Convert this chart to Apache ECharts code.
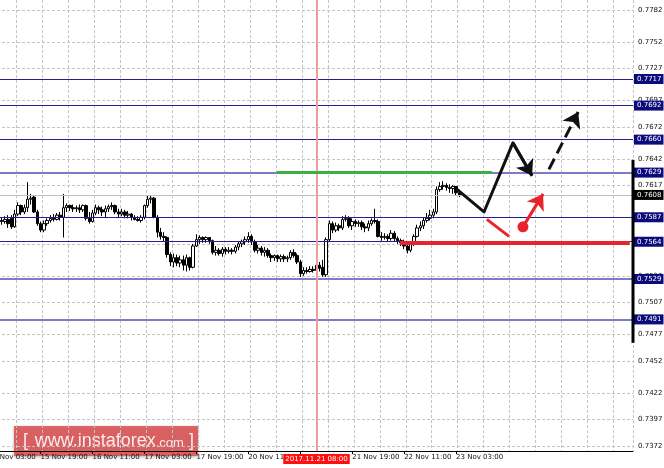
<!DOCTYPE html>
<html><head><meta charset="utf-8">
<script src="https://cdn.jsdelivr.net/npm/echarts@6/dist/echarts.min.js"></script>
<style>html,body{margin:0;padding:0;background:#fff}#c{width:664px;height:468px}</style>
</head><body><div id="c"></div>
<script>
// ---- data ----
const SLOTS = 199;
const xTickLabels = ['15 Nov 03:00','15 Nov 19:00','16 Nov 11:00','17 Nov 03:00','17 Nov 19:00','20 Nov 11:00','21 Nov 03:00','21 Nov 19:00','22 Nov 11:00','23 Nov 03:00'];
const yTickLabels = [0.7372,0.7397,0.7422,0.7452,0.7477,0.7507,0.7532,0.7562,0.7587,0.7617,0.7642,0.7672,0.7697,0.7727,0.7752,0.7782];
const levelPrices = [0.7717,0.7692,0.7660,0.7629,0.7587,0.7564,0.7529,0.7491];
const levelStrong = [false,false,false,true,false,false,true,true];
const currentPrice = 0.7608;
const markerTime = '21 Nov 08:00';
const markerLabel = '2017.11.21 08:00';

const openP = [null,null,null,null,
.7584,.7583,.7585,.7586,.7578,.7590,.7598,.7592,.7596,.7604,.7606,.7592,.7581,.7575,.7581,.7584,
.7586,.7585,.7589,.7587,.7596,.7598,.7596,.7595,.7596,.7594,.7598,.7586,.7583,.7591,.7596,.7594,
.7592,.7595,.7597,.7598,.7592,.7590,.7592,.7589,.7590,.7587,.7585,.7584,.7587,.7598,.7604,.7605,
.7587,.7573,.7569,.7568,.7552,.7545,.7549,.7544,.7547,.7542,.7549,.7540,.7560,.7566,.7568,.7566,
.7568,.7565,.7554,.7556,.7553,.7557,.7555,.7556,.7555,.7559,.7562,.7564,.7566,.7569,.7564,.7556,
.7558,.7554,.7556,.7551,.7549,.7551,.7548,.7550,.7548,.7549,.7554,.7551,.7545,.7534,.7537,.7536,
.7538,.7537,.7542,.7540,.7533,.7566,.7581,.7575,.7579,.7577,.7585,.7586,.7579,.7583,.7581,.7582,
.7578,.7577,.7581,.7584,.7583,.7569,.7568,.7569,.7567,.7572,.7567,.7565,.7563,.7560,.7556,.7562,
.7569,.7577,.7579,.7584,.7586,.7589,.7592,.7613,.7616,.7617,.7615,.7614,.7616,.7610];
const closeP = [null,null,null,null,
.7583,.7585,.7581,.7578,.7590,.7598,.7592,.7596,.7604,.7605,.7592,.7581,.7575,.7581,.7584,.7586,
.7585,.7589,.7587,.7596,.7598,.7596,.7595,.7596,.7594,.7598,.7586,.7583,.7591,.7596,.7594,.7592,
.7595,.7597,.7598,.7592,.7590,.7592,.7589,.7590,.7587,.7585,.7584,.7587,.7598,.7604,.7605,.7587,
.7573,.7569,.7568,.7552,.7545,.7549,.7544,.7547,.7542,.7549,.7540,.7560,.7566,.7568,.7566,.7568,
.7565,.7554,.7556,.7553,.7557,.7555,.7556,.7555,.7559,.7562,.7564,.7566,.7569,.7564,.7556,.7558,
.7554,.7556,.7551,.7549,.7551,.7548,.7550,.7548,.7549,.7554,.7551,.7545,.7534,.7537,.7536,.7538,
.7537,.7542,.7539,.7533,.7566,.7581,.7575,.7579,.7577,.7585,.7586,.7579,.7583,.7581,.7582,.7578,
.7577,.7581,.7584,.7583,.7569,.7568,.7569,.7567,.7572,.7567,.7565,.7563,.7560,.7556,.7562,.7569,
.7577,.7579,.7584,.7586,.7589,.7592,.7613,.7616,.7617,.7615,.7614,.7616,.7610,.7608];
const lowP = [null,null,null,null,
.7580,.7581,.7577,.7576,.7577,.7588,.7589,.7590,.7592,.7599,.7591,.7579,.7573,.7573,.7579,.7582,
.7583,.7584,.7584,.7568,.7592,.7593,.7592,.7592,.7591,.7592,.7584,.7581,.7582,.7589,.7590,.7588,
.7587,.7592,.7594,.7590,.7587,.7588,.7586,.7586,.7584,.7584,.7583,.7582,.7585,.7596,.7600,.7586,
.7568,.7566,.7564,.7549,.7541,.7540,.7541,.7540,.7537,.7536,.7537,.7539,.7559,.7562,.7563,.7563,
.7562,.7552,.7551,.7551,.7550,.7552,.7553,.7552,.7553,.7556,.7559,.7561,.7563,.7561,.7554,.7553,
.7551,.7550,.7549,.7545,.7546,.7545,.7545,.7545,.7545,.7547,.7549,.7543,.7531,.7532,.7534,.7535,
.7535,.7536,.7536,.7531,.7531,.7564,.7572,.7573,.7574,.7575,.7583,.7577,.7575,.7578,.7578,.7575,
.7573,.7574,.7579,.7581,.7568,.7565,.7566,.7564,.7565,.7564,.7562,.7560,.7557,.7553,.7554,.7560,
.7568,.7574,.7576,.7582,.7584,.7586,.7590,.7611,.7613,.7612,.7610,.7609,.7607,.7606];
const highP = [null,null,null,null,
.7587,.7588,.7589,.7589,.7594,.7601,.7599,.7599,.7620,.7609,.7607,.7594,.7583,.7584,.7586,.7589,
.7590,.7591,.7592,.7609,.7600,.7599,.7599,.7598,.7599,.7599,.7599,.7592,.7594,.7599,.7598,.7597,
.7598,.7599,.7601,.7599,.7595,.7595,.7594,.7593,.7591,.7589,.7588,.7589,.7599,.7607,.7607,.7606,
.7589,.7577,.7573,.7569,.7554,.7553,.7552,.7551,.7551,.7552,.7550,.7562,.7571,.7570,.7569,.7569,
.7568,.7566,.7560,.7558,.7559,.7559,.7559,.7558,.7561,.7564,.7566,.7569,.7573,.7571,.7566,.7561,
.7560,.7559,.7558,.7553,.7552,.7552,.7552,.7552,.7551,.7556,.7557,.7553,.7547,.7540,.7540,.7541,
.7541,.7545,.7545,.7547,.7568,.7584,.7583,.7582,.7581,.7588,.7589,.7588,.7586,.7585,.7584,.7584,
.7581,.7584,.7586,.7595,.7585,.7573,.7572,.7571,.7575,.7574,.7569,.7567,.7566,.7563,.7564,.7571,
.7580,.7583,.7587,.7591,.7594,.7595,.7616,.7620,.7621,.7619,.7618,.7617,.7616,.7613];

// forecast drawing (x in bar index, y in price)
const forecastPath = [[144,0.7614],[152.6,0.7592],[161.5,0.7657],[167.4,0.7626]];
const forecastUp = [[172.6,0.7632],[181.6,0.7686]];
const redDrop = [[153.5,0.7585],[160.3,0.7569]];
const redDot = [[164.6,0.7578]];
const redUp = [[164.6,0.7578],[170.8,0.7609]];
const greenLevel = [[88.8,0.7629],[155.1,0.7629]];
const redLevel = [[126.7,0.7563],[197.5,0.7563]];
const rangeBar = [[198.5,0.7641],[198.5,0.7469]];

// ---- build ----
const categories = [];
let t = Date.UTC(2017,10,15,3);
while (categories.length < SLOTS) {
  const d = new Date(t);
  const wd = d.getUTCDay();
  if (wd !== 0 && wd !== 6) categories.push(d.getUTCDate() + ' Nov ' + String(d.getUTCHours()).padStart(2,'0') + ':00');
  t += 3600000;
}
const ohlc = openP.map((o,i) => o == null ? '-' : [o, closeP[i], lowP[i], highP[i]]);

const FONT = 'DejaVu Sans';
const NAVY = '#0b0b7c';
const RED = '#e8232b';
const X0 = -0.5, X1 = SLOTS - 0.5;

function seg(a, b, style, arrow, label) {
  return [
    {coord: a, symbol:'none', lineStyle: style, label: label || {show:false}},
    {coord: b, symbol: arrow ? 'arrow' : 'none', symbolSize: arrow ? 15 : 0}
  ];
}

const levelLines = levelPrices.map((p,i) => seg([X0,p],[X1,p],
  levelStrong[i] ? {color:'#7c7cc8', width:2, type:'solid'} : {color:'#22228e', width:1, type:'solid'},
  false,
  {show:true, position:'end', formatter: p.toFixed(4)}));
levelLines.unshift(seg([X0,currentPrice],[X1,currentPrice], {color:'#c0c0c0', width:1, type:'solid'}, false,
  {show:true, position:'end', formatter: currentPrice.toFixed(4), backgroundColor:'#000'}));

const chart = echarts.init(document.getElementById('c'), null, {renderer:'canvas'});
chart.setOption({
  animation: false,
  backgroundColor: '#fff',
  grid: {left: -13, right: 31, top: 0, bottom: 17, containLabel: false, outerBoundsMode: 'none'},
  xAxis: [{
    type: 'category', data: categories, boundaryGap: true,
    axisLine: {show: true, lineStyle: {color: '#000', width: 1}},
    axisTick: {show: true, alignWithLabel: true, length: 3, lineStyle:{color:'#000'},
      interval: (i, v) => xTickLabels.includes(v)},
    axisLabel: {show: true, align: 'left', margin: 3, fontSize: 7, fontFamily: FONT, color: '#111',
      interval: (i, v) => xTickLabels.includes(v)},
    splitLine: {show: true, interval: (i) => i % 8 === 1, lineStyle: {color: '#c4c4c4', type: [3,2], width: 1}}
  }, {
    type: 'value', min: X0, max: X1, show: false, splitLine: {show: false}
  }],
  yAxis: {
    type: 'value', position: 'right', min: 0.73673, max: 0.779125, scale: true,
    axisLine: {show: true, lineStyle: {color: '#000', width: 1}},
    axisTick: {show: true, length: 3, customValues: yTickLabels, lineStyle:{color:'#000'}},
    axisLabel: {customValues: yTickLabels, margin: 5, fontSize: 7, fontFamily: FONT, color: '#111',
      formatter: v => v.toFixed(4)},
    splitLine: {show: true, lineStyle: {color: '#c4c4c4', type: [3,2], width: 1}}
  },
  series: [{
    type: 'line', xAxisIndex: 1, data: [], symbol: 'none', z: 2,
    markLine: {
      silent: true, animation: false, symbol: ['none','none'], emphasis: {disabled: true},
      label: {position: 'end', distance: 1, color: '#fff', backgroundColor: NAVY, fontSize: 7,
        fontFamily: FONT, padding: [2,2,1,3]},
      data: levelLines
    }
  }, {
    type: 'candlestick', data: ohlc, barWidth: 3, z: 3,
    itemStyle: {color: '#fff', color0: '#000', borderColor: '#000', borderColor0: '#000', borderWidth: 1},
    markLine: {
      silent: true, symbol: ['none','none'], animation: false, emphasis: {disabled: true},
      data: [{
        xAxis: markerTime,
        lineStyle: {color: '#f59a9a', width: 2, type: 'solid'},
        label: {position: 'start', formatter: markerLabel, backgroundColor: '#ff1010', color: '#fff',
          fontSize: 7, fontFamily: FONT, distance: 3, padding: [2,2,1,2]}
      }]
    }
  }, {
    type: 'line', xAxisIndex: 1, data: forecastPath, symbol: 'none', z: 6,
    lineStyle: {color: '#111', width: 3, join: 'round'},
    markLine: {
      silent: true, animation: false, label: {show: false}, emphasis: {disabled: true},
      data: [
        seg(forecastPath[2], forecastPath[3], {color:'#111', width:3, type:'solid'}, true),
        seg(forecastUp[0], forecastUp[1], {color:'#111', width:3, type:[12,6]}, true),
        seg(redDrop[0], redDrop[1], {color:RED, width:3, type:'solid'}, false),
        seg(redUp[0], redUp[1], {color:RED, width:3, type:'solid'}, true),
        seg(greenLevel[0], greenLevel[1], {color:'#3cb043', width:3, type:'solid'}, false),
        seg(redLevel[0], redLevel[1], {color:RED, width:4, type:'solid'}, false)
      ]
    }
  }, {
    type: 'scatter', xAxisIndex: 1, data: redDot, symbolSize: 11, z: 7,
    itemStyle: {color: RED, opacity: 1}
  }, {
    type: 'line', xAxisIndex: 1, data: rangeBar, symbol: 'none', clip: false, z: 8,
    lineStyle: {color: '#000', width: 3}
  }],
  graphic: [{
    type: 'group', left: 14, top: 426, z: 100,
    children: [{
      type: 'rect', shape: {x:0, y:0, width: 184, height: 30},
      style: {fill: 'rgba(222,84,84,0.88)', shadowBlur: 3, shadowColor: 'rgba(0,0,0,0.35)', shadowOffsetY: 1}
    }, {
      type: 'text', x: 9, y: 15,
      style: {
        text: '{b|[}  {a|www.instaforex}{c|.com}{b| ]}',
        verticalAlign: 'middle', fill: 'rgba(255,255,255,0.88)',
        rich: {
          a: {fontSize: 18, fontFamily: 'Liberation Sans', fill: 'rgba(255,255,255,0.88)'},
          c: {fontSize: 13, fontFamily: 'Liberation Sans', fill: 'rgba(255,255,255,0.88)', padding:[4,0,0,0]},
          b: {fontSize: 18, fontFamily: 'Liberation Sans', fill: 'rgba(255,255,255,0.88)'}
        }
      }
    }]
  }]
});
</script></body></html>
